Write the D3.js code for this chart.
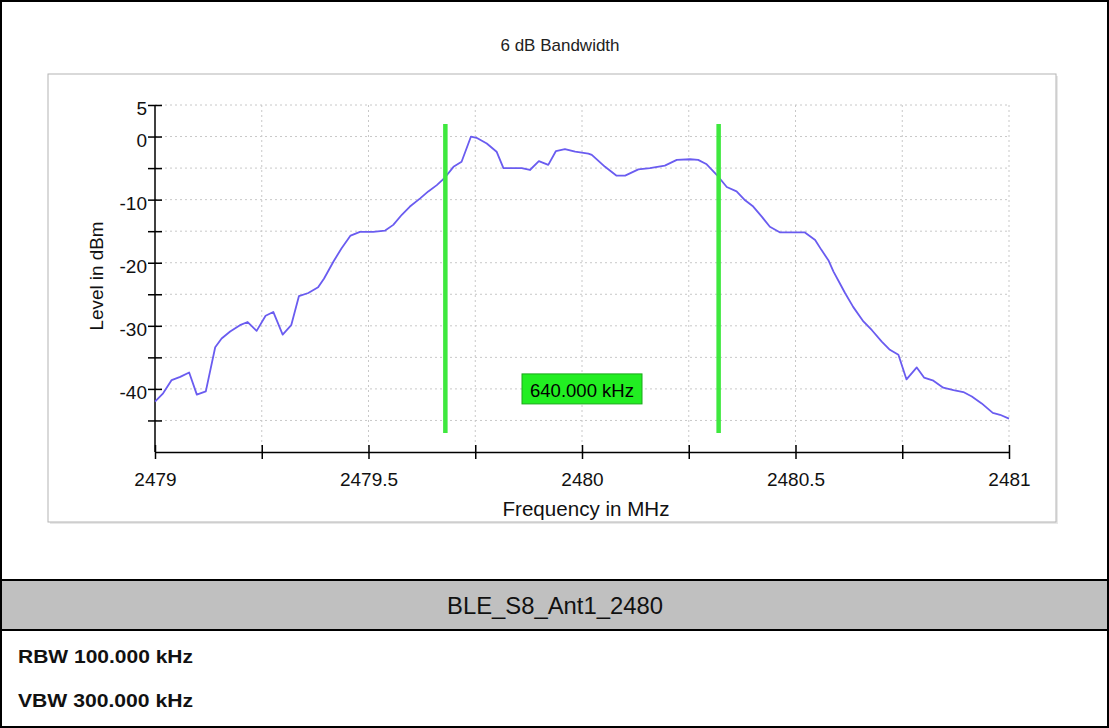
<!DOCTYPE html>
<html>
<head>
<meta charset="utf-8">
<script src="https://cdn.jsdelivr.net/npm/d3@7"></script>
<style>
  html, body { margin: 0; padding: 0; background: #fff; }
  svg { display: block; font-family: Arial, "Liberation Sans", sans-serif; }
</style>
</head>
<body>
<svg id="c" width="1109" height="728"></svg>
<script>
// ---- Data ----
const chartTitle = "6 dB Bandwidth";
const xLabel = "Frequency in MHz";
const yLabel = "Level in dBm";
const freqMHz = [
  2479.000, 2479.019, 2479.039, 2479.059, 2479.080, 2479.098, 2479.119, 2479.141, 2479.156, 2479.176,
  2479.199, 2479.217, 2479.238, 2479.259, 2479.277, 2479.299, 2479.319, 2479.337, 2479.359, 2479.382,
  2479.396, 2479.418, 2479.437, 2479.458, 2479.480, 2479.511, 2479.539, 2479.558, 2479.578, 2479.597,
  2479.621, 2479.640, 2479.660, 2479.679, 2479.699, 2479.718, 2479.740, 2479.753, 2479.777, 2479.800,
  2479.816, 2479.839, 2479.859, 2479.878, 2479.899, 2479.921, 2479.939, 2479.960, 2479.984, 2480.015,
  2480.023, 2480.054, 2480.081, 2480.101, 2480.132, 2480.159, 2480.194, 2480.222, 2480.253, 2480.272,
  2480.292, 2480.316, 2480.339, 2480.362, 2480.382, 2480.401, 2480.421, 2480.440, 2480.464, 2480.495,
  2480.522, 2480.546, 2480.561, 2480.577, 2480.589, 2480.604, 2480.616, 2480.635, 2480.659, 2480.679,
  2480.702, 2480.721, 2480.741, 2480.760, 2480.784, 2480.801, 2480.823, 2480.846, 2480.870, 2480.893,
  2480.913, 2480.936, 2480.962, 2480.979, 2481.000
];
const levelDBm = [
  -42.0, -40.7, -38.6, -38.1, -37.4, -40.9, -40.4, -33.4, -32.0, -30.9,
  -29.9, -29.4, -30.8, -28.4, -27.8, -31.4, -29.9, -25.3, -24.8, -23.9,
  -22.5, -19.8, -17.7, -15.7, -15.1, -15.1, -14.9, -14.0, -12.4, -11.1,
  -9.8, -8.7, -7.7, -6.5, -4.8, -4.0, 0.0, -0.2, -1.1, -2.4,
  -5.0, -5.0, -5.0, -5.3, -3.9, -4.5, -2.3, -2.0, -2.4, -2.7,
  -2.9, -4.8, -6.2, -6.2, -5.2, -5.0, -4.6, -3.7, -3.6, -3.7,
  -4.4, -6.1, -8.0, -8.7, -10.1, -11.1, -12.7, -14.3, -15.2, -15.2,
  -15.2, -16.4, -18.0, -19.6, -21.4, -23.3, -24.8, -27.0, -29.3, -30.7,
  -32.5, -33.8, -34.6, -38.5, -36.6, -38.2, -38.7, -39.8, -40.2, -40.5,
  -41.2, -42.3, -43.8, -44.1, -44.7
];
const markerFreqs = [2479.68, 2480.32];
const markerLevels = [2, -47];
const bandwidthLabel = "640.000 kHz";
const bandwidthLabelPos = [2480.0, -40];
const xTickValues = [2479, 2479.25, 2479.5, 2479.75, 2480, 2480.25, 2480.5, 2480.75, 2481];
const xTickLabels = ["2479", "", "2479.5", "", "2480", "", "2480.5", "", "2481"];
const yTickValues = [5, 0, -5, -10, -15, -20, -25, -30, -35, -40, -45];
const yTickLabels = ["5", "0", "", "-10", "", "-20", "", "-30", "", "-40", ""];
const sectionTitle = "BLE_S8_Ant1_2480";
const infoRows = ["RBW 100.000 kHz", "VBW 300.000 kHz"];

// ---- Drawing ----
const svg = d3.select("#c");
const W = 1109, H = 728;
const FONT = "Arial, 'Liberation Sans', sans-serif";

// outer frame / table
svg.append("rect").attr("x", 1).attr("y", 1).attr("width", W - 2).attr("height", H - 2)
  .attr("fill", "#fff").attr("stroke", "#000").attr("stroke-width", 2);
svg.append("rect").attr("x", 1).attr("y", 580).attr("width", W - 2).attr("height", 50)
  .attr("fill", "#c0c0c0").attr("stroke", "#000").attr("stroke-width", 2);
svg.append("text").attr("x", 555).attr("y", 614).attr("text-anchor", "middle")
  .attr("font-size", 23).attr("fill", "#111")
  .attr("textLength", 216).attr("lengthAdjust", "spacingAndGlyphs").text(sectionTitle);
const rowBase = [663, 707];
infoRows.forEach((t, i) => {
  svg.append("text").attr("x", 18).attr("y", rowBase[i])
    .attr("font-size", 18.5).attr("font-weight", "bold").attr("fill", "#111")
    .attr("textLength", 175).attr("lengthAdjust", "spacingAndGlyphs").text(t);
});

// chart panel
svg.append("rect").attr("x", 50).attr("y", 76).attr("width", 1008).attr("height", 448)
  .attr("fill", "#e8e8e8");
svg.append("rect").attr("x", 48).attr("y", 74).attr("width", 1008).attr("height", 448)
  .attr("fill", "#fff").attr("stroke", "#b4b4b4").attr("stroke-width", 1);

svg.append("text").attr("x", 560).attr("y", 51).attr("text-anchor", "middle")
  .attr("font-size", 17).attr("fill", "#222").text(chartTitle);

const x = d3.scaleLinear().domain([2479, 2481]).range([155, 1009]);
const y = d3.scaleLinear().domain([5, -50]).range([105, 452]);

// grid
const grid = svg.append("g");
grid.selectAll(".hg").data(yTickValues).join("line")
  .attr("x1", x(2479)).attr("x2", x(2481))
  .attr("y1", d => y(d)).attr("y2", d => y(d))
  .attr("stroke", "#c8c8c8").attr("stroke-width", 1).attr("stroke-dasharray", "2,3");
grid.selectAll(".vg").data(xTickValues.slice(1)).join("line")
  .attr("x1", d => x(d)).attr("x2", d => x(d))
  .attr("y1", y(5)).attr("y2", y(-50))
  .attr("stroke", "#c8c8c8").attr("stroke-width", 1).attr("stroke-dasharray", "2,3");

// axes
const xAxis = d3.axisBottom(x).tickValues(xTickValues)
  .tickFormat((d, i) => xTickLabels[i]).tickSizeInner(7).tickSizeOuter(0).tickPadding(13.5);
const gx = svg.append("g").attr("transform", `translate(0,${y(-50)})`).call(xAxis);
gx.select(".domain").attr("stroke", "#000").attr("stroke-width", 1.5);
gx.selectAll(".tick line").attr("y1", -7).attr("stroke", "#000").attr("stroke-width", 1.5);
gx.selectAll(".tick text").attr("font-size", 19).attr("fill", "#111").attr("font-family", FONT);

const yAxis = d3.axisLeft(y).tickValues(yTickValues)
  .tickFormat((d, i) => yTickLabels[i]).tickSizeInner(7).tickSizeOuter(0).tickPadding(1);
const gy = svg.append("g").attr("transform", `translate(${x(2479)},0)`).call(yAxis);
gy.select(".domain").attr("stroke", "#000").attr("stroke-width", 1.5)
  .attr("d", `M0,${y(5)}V${y(-50)}`);
gy.selectAll(".tick line").attr("x2", 7).attr("x1", -7).attr("stroke", "#000").attr("stroke-width", 1.5);
gy.selectAll(".tick text").attr("font-size", 19).attr("fill", "#111").attr("font-family", FONT)
  .attr("dy", "0.5em");

svg.append("text").attr("x", 586).attr("y", 516).attr("text-anchor", "middle")
  .attr("font-size", 20.5).attr("fill", "#111")
  .attr("textLength", 167).attr("lengthAdjust", "spacingAndGlyphs").text(xLabel);
svg.append("text").attr("transform", `translate(103,276) rotate(-90)`)
  .attr("text-anchor", "middle").attr("font-size", 18.5).attr("fill", "#111")
  .attr("textLength", 109).attr("lengthAdjust", "spacingAndGlyphs").text(yLabel);

// trace
const pts = freqMHz.map((f, i) => [f, levelDBm[i]]);
svg.append("path").datum(pts)
  .attr("d", d3.line().x(d => x(d[0])).y(d => y(d[1])))
  .attr("fill", "none").attr("stroke", "#6a5cf0").attr("stroke-width", 1.8)
  .attr("stroke-linejoin", "round");

// markers
svg.selectAll(".mk").data(markerFreqs).join("line")
  .attr("x1", d => x(d)).attr("x2", d => x(d))
  .attr("y1", y(markerLevels[0])).attr("y2", y(markerLevels[1]))
  .attr("stroke", "#3ee83e").attr("stroke-width", 4.5);

const bx = x(bandwidthLabelPos[0]), by = y(bandwidthLabelPos[1]);
svg.append("rect").attr("x", bx - 60).attr("y", by - 15).attr("width", 120).attr("height", 30)
  .attr("fill", "#22ee22").attr("stroke", "#1aa81a").attr("stroke-width", 1);
svg.append("text").attr("x", bx).attr("y", by + 8.5).attr("text-anchor", "middle")
  .attr("font-size", 18).attr("fill", "#000")
  .attr("textLength", 104).attr("lengthAdjust", "spacingAndGlyphs").text(bandwidthLabel);
</script>
</body>
</html>
